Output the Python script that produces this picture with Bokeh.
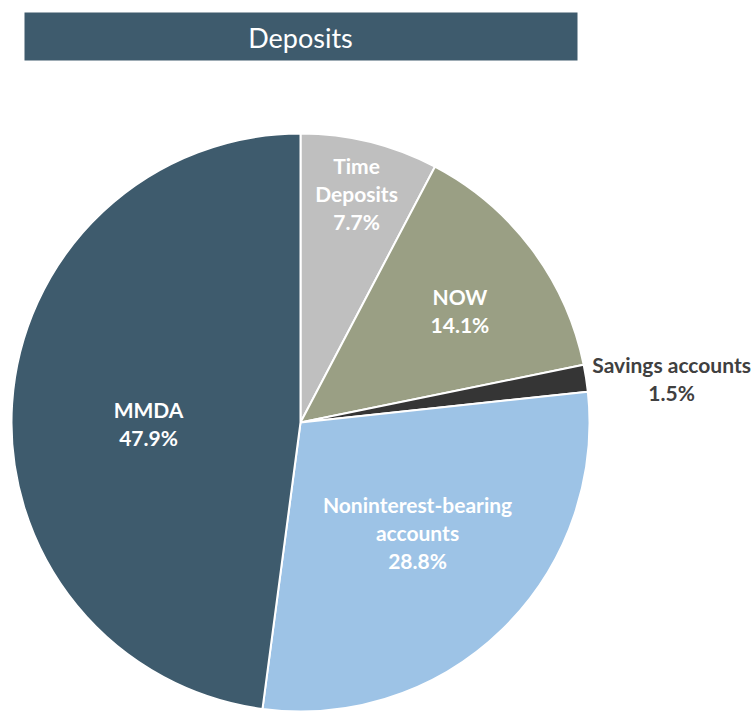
import math
from bokeh.plotting import figure
from bokeh.models import Range1d, ColumnDataSource
from bokeh.core.properties import value
from bokeh.embed import file_html
from bokeh.resources import INLINE

# ---- data ----
categories = ["Time Deposits", "NOW", "Savings accounts", "Noninterest-bearing accounts", "MMDA"]
shares = [7.7, 14.1, 1.5, 28.8, 47.9]
colors = ["#BFBFBF", "#9A9F84", "#353535", "#9DC3E6", "#3E5B6D"]
label_lines = [["Time", "Deposits", "7.7%"], ["NOW", "14.1%"], ["Savings accounts", "1.5%"],
               ["Noninterest-bearing", "accounts", "28.8%"], ["MMDA", "47.9%"]]
title = "Deposits"

# ---- layout (pixel-like data units, y measured upward from window bottom) ----
W, H = 754, 711
cx, cy, R = 300, 289, 289
label_r = [0.81, 0.69, 1.31, 0.58, 0.52]
label_nudge = [(0, 2), (0, -8), (-3, -14), (0, 10), (-2, -11)]
label_color = ["white", "white", "#404040", "white", "white"]
FONT = "Lato"

p = figure(width=W, height=H, output_backend="svg", toolbar_location=None,
           x_range=Range1d(0, W), y_range=Range1d(0, H),
           min_border=0, outline_line_color=None)
p.axis.visible = False
p.grid.visible = False
p.background_fill_color = "white"
p.border_fill_color = "white"

total = sum(shares)
starts, ends, mids = [], [], []
cum = 0.0
for s in shares:
    a0 = math.pi / 2 - 2 * math.pi * cum / total
    cum += s
    a1 = math.pi / 2 - 2 * math.pi * cum / total
    starts.append(a0)
    ends.append(a1)
    mids.append((a0 + a1) / 2)

src = ColumnDataSource(dict(start=starts, end=ends, color=colors, cat=categories))
p.wedge(x=cx, y=cy, radius=R, start_angle="start", end_angle="end", direction="clock",
        fill_color="color", line_color="white", line_width=2, source=src)

# title bar
p.quad(left=24, right=577, top=699, bottom=651, fill_color="#3E5B6D", line_color=None)
p.text(x=[300], y=[674], text=[title], text_font=value(FONT), text_font_size="27px",
       text_color="white", text_align="center", text_baseline="middle")

# labels
LS = 28
for i, lines in enumerate(label_lines):
    lx = cx + label_r[i] * R * math.cos(mids[i]) + label_nudge[i][0]
    ly = cy + label_r[i] * R * math.sin(mids[i]) + label_nudge[i][1]
    n = len(lines)
    for j, t in enumerate(lines):
        yy = ly + ((n - 1) / 2 - j) * LS
        p.text(x=[lx], y=[yy], text=[t], text_font=value(FONT), text_font_size="21px",
               text_font_style="bold", text_color=label_color[i],
               text_align="center", text_baseline="middle")

open("out.html", "w").write(file_html(p, INLINE))
